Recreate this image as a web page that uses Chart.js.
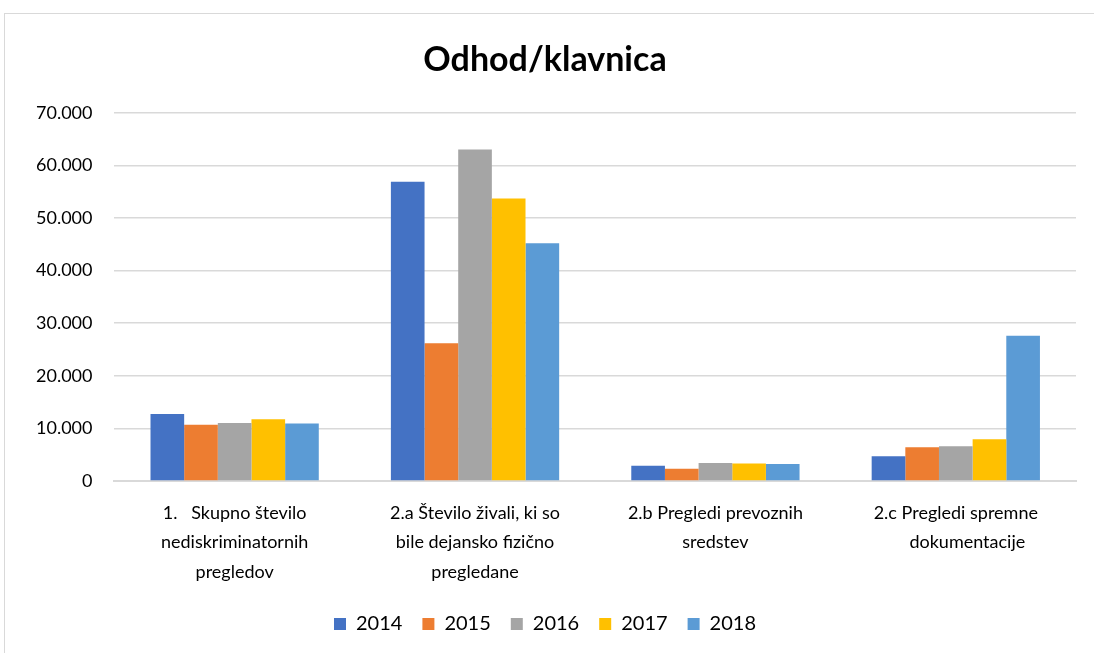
<!DOCTYPE html>
<html>
<head>
<meta charset="utf-8">
<script src="https://cdn.jsdelivr.net/npm/chart.js@4/dist/chart.umd.min.js"></script>
<style>
  html, body { margin: 0; padding: 0; background: #fff; }
  #wrap { position: relative; width: 1094px; height: 653px; overflow: hidden; }
  #frame { position: absolute; left: 4px; top: 13px; width: 1200px; height: 700px; border: 1px solid #d9d9d9; box-sizing: border-box; }
  canvas { position: absolute; left: 0; top: 0; }
</style>
</head>
<body>
<div id="wrap">
  <div id="frame"></div>
  <canvas id="c" width="1094" height="653"></canvas>
</div>
<script>
const categories = [
  ["1.   Skupno število", "nediskriminatornih", "pregledov"],
  ["2.a Število živali, ki so", "bile dejansko fizično", "pregledane"],
  ["2.b Pregledi prevoznih", "sredstev"],
  ["2.c Pregledi spremne", "     dokumentacije"]
];
const years = ["2014", "2015", "2016", "2017", "2018"];
const v2014 = [12700, 56900, 2900, 4700];
const v2015 = [10700, 26200, 2300, 6400];
const v2016 = [11000, 63000, 3400, 6600];
const v2017 = [11700, 53700, 3300, 7900];
const v2018 = [10900, 45200, 3200, 27600];
const colors = ["#4472c4", "#ed7d31", "#a5a5a5", "#ffc000", "#5b9bd5"];
const seriesValues = [v2014, v2015, v2016, v2017, v2018];

const FONT = "Lato, 'Open Sans', sans-serif";
Chart.defaults.font.family = FONT;
Chart.defaults.color = "#000";

new Chart(document.getElementById("c"), {
  type: "bar",
  data: {
    labels: categories,
    datasets: years.map((y, i) => ({
      label: y,
      data: seriesValues[i],
      backgroundColor: colors[i],
      borderWidth: 0,
      categoryPercentage: 0.7,
      barPercentage: 1.0
    }))
  },
  options: {
    responsive: false,
    animation: false,
    layout: { padding: { left: 14, right: 18, top: 40, bottom: 9 } },
    plugins: {
      title: {
        display: true,
        text: "Odhod/klavnica",
        font: { size: 34, weight: "bold", family: FONT },
        color: "#000",
        padding: { top: 0, bottom: 32 }
      },
      legend: {
        position: "bottom",
        labels: {
          boxWidth: 12, boxHeight: 12,
          font: { size: 20, family: FONT },
          color: "#000",
          padding: 10,
          generateLabels: chart => {
            const items = Chart.defaults.plugins.legend.labels.generateLabels(chart);
            items.forEach((it, i) => { if (i < items.length - 1) it.text += "\u2002"; });
            return items;
          }
        }
      },
      tooltip: { enabled: false }
    },
    scales: {
      x: {
        grid: { display: false, drawTicks: false },
        border: { color: "#d9d9d9", width: 2 },
        ticks: {
          font: { size: 18, family: FONT, lineHeight: 1.65 },
          color: "#000",
          padding: 17,
          maxRotation: 0,
          autoSkip: false
        }
      },
      y: {
        min: 0, max: 70000,
        grid: { color: "#d9d9d9", lineWidth: 1.5, drawTicks: false },
        border: { display: false },
        ticks: {
          stepSize: 10000,
          padding: 22,
          font: { size: 18, family: FONT },
          color: "#000",
          callback: v => v === 0 ? "0" : v.toLocaleString("de-DE")
        }
      }
    }
  }
});
</script>
</body>
</html>
